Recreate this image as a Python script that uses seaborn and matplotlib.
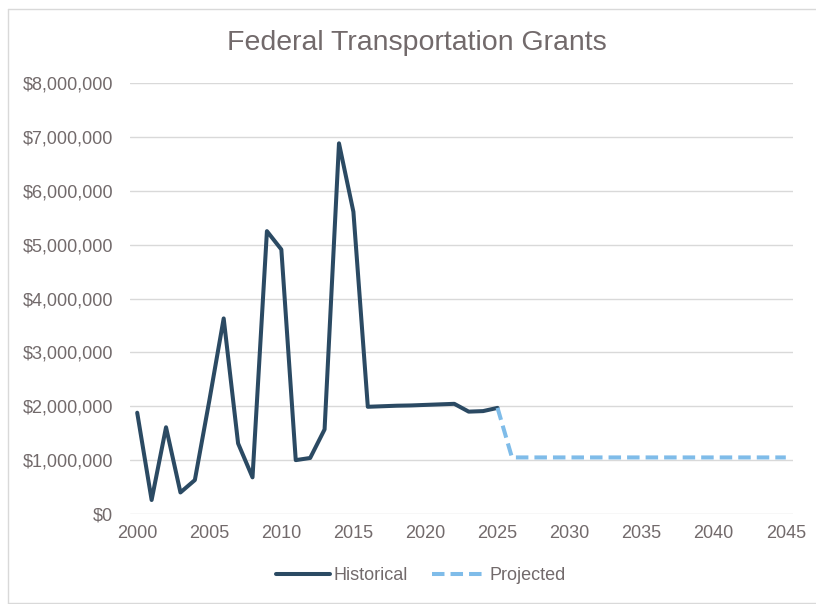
import matplotlib
matplotlib.use("Agg")
import matplotlib.pyplot as plt
import matplotlib.ticker as mticker
import seaborn as sns
import pandas as pd

# historical grants
hist_years = [2000, 2001, 2002, 2003, 2004, 2005, 2006, 2007, 2008, 2009, 2010, 2011, 2012,
              2013, 2014, 2015, 2016, 2017, 2018, 2019, 2020, 2021, 2022, 2023, 2024, 2025]
hist_values = [1880000, 260000, 1610000, 400000, 630000, 2100000, 3630000, 1310000, 680000,
               5250000, 4910000, 1000000, 1040000, 1570000, 6880000, 5610000, 1990000,
               2000000, 2010000, 2015000, 2025000, 2035000, 2045000, 1900000, 1910000, 1970000]

# projection
proj_years = [2025, 2026, 2027, 2028, 2029, 2030, 2031, 2032, 2033, 2034, 2035,
              2036, 2037, 2038, 2039, 2040, 2041, 2042, 2043, 2044, 2045]
proj_values = [1970000] + [1050000] * 20

series_names = ["Historical", "Projected"]
colors = ["#2B4A63", "#7FBCE9"]
dash = (3.1, 1.5)

df = pd.concat([
    pd.DataFrame({"year": hist_years, "value": hist_values, "series": series_names[0]}),
    pd.DataFrame({"year": proj_years, "value": proj_values, "series": series_names[1]}),
])

sns.set_style("white")
plt.rcParams["font.family"] = ["Liberation Sans", "DejaVu Sans"]
text_col = "#726A6B"

fig = plt.figure(figsize=(8.16, 6.04), dpi=100)
ax = fig.add_axes([130 / 816, 90 / 604, 663 / 816, 431 / 604])

sns.lineplot(data=df, x="year", y="value", hue="series", style="series",
             palette=dict(zip(series_names, colors)),
             dashes={"Historical": "", "Projected": dash},
             linewidth=2.9, ax=ax, legend=False)

ax.set_xlim(1999.5, 2045.5)
ax.set_ylim(0, 8000000)
ax.set_xticks(range(2000, 2046, 5))
ax.set_yticks(range(0, 8000001, 1000000))
ax.yaxis.set_major_formatter(mticker.FuncFormatter(lambda v, p: f"${v:,.0f}"))
ax.grid(axis="y", color="#D9D9D9", linewidth=1)
ax.set_axisbelow(True)
for s in ax.spines.values():
    s.set_visible(False)
ax.tick_params(axis="both", length=0, labelsize=13, labelcolor=text_col)
ax.tick_params(axis="y", pad=12)
ax.tick_params(axis="x", pad=8)
ax.set_xlabel("")
ax.set_ylabel("")

fig.text(417 / 816, 1 - 43 / 604, "Federal Transportation Grants", ha="center", va="center",
         fontsize=20.5, color=text_col)

handles = [plt.Line2D([], [], color=colors[0], linewidth=2.9),
           plt.Line2D([], [], color=colors[1], linewidth=2.9, dashes=dash)]
fig.legend(handles, series_names, loc="center", bbox_to_anchor=(421 / 816, 1 - 576 / 604),
           ncol=2, frameon=False, fontsize=13, labelcolor=text_col,
           handlelength=3.0, handletextpad=0.2, columnspacing=1.3)

# chart frame (left, top, bottom; right edge is outside the image)
x0, y0, y1 = 7.5 / 816, 1 - 602.5 / 604, 1 - 8.5 / 604
for xs, ys in [([x0, x0], [y0, y1]), ([x0, 1.01], [y1, y1]), ([x0, 1.01], [y0, y0])]:
    fig.add_artist(plt.Line2D(xs, ys, transform=fig.transFigure, color="#D9D9D9", linewidth=1))

fig.savefig("out.png", dpi=100)
